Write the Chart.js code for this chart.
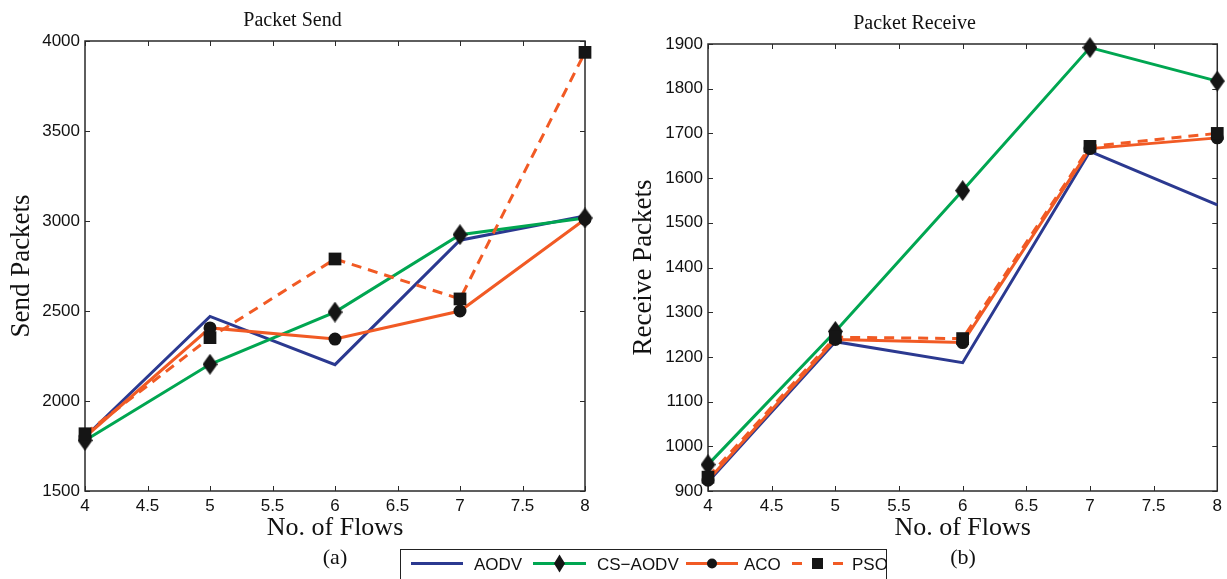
<!DOCTYPE html>
<html>
<head>
<meta charset="utf-8">
<script src="https://cdn.jsdelivr.net/npm/chart.js@4.4.1/dist/chart.umd.min.js"></script>
<style>
  body { margin: 0; background: #fff; width: 1227px; height: 579px; overflow: hidden; position: relative; }
  .wrap { position: absolute; top: 0; height: 545px; }
  .cap { position: absolute; font: 22px "Liberation Serif", serif; color: #111; transform: translate(-50%, -50%); }
  #legend { position: absolute; left: 400px; top: 549px; }
</style>
</head>
<body>
<div class="wrap" style="left:0;width:600px"><canvas id="sendChart"></canvas></div>
<div class="wrap" style="left:610px;width:617px"><canvas id="recvChart"></canvas></div>
<div class="cap" style="left:335px;top:557px">(a)</div>
<div class="cap" style="left:963px;top:557px">(b)</div>
<svg id="legend" width="487" height="40"></svg>
<script>
// data
const flows = [4, 5, 6, 7, 8];

const sendAODV = [1800, 2470, 2202, 2893, 3028];
const sendCSAODV = [1781, 2204, 2494, 2924, 3017];
const sendACO = [1800, 2406, 2344, 2500, 3010];
const sendPSO = [1818, 2352, 2789, 2567, 3937];

const recvAODV = [920, 1234, 1187, 1660, 1540];
const recvCSAODV = [959, 1257, 1572, 1892, 1817];
const recvACO = [924, 1239, 1232, 1666, 1690];
const recvPSO = [931, 1244, 1241, 1671, 1700];

const seriesNames = ["AODV", "CS\u2212AODV", "ACO", "PSO"];
const seriesColors = ["#2b3990", "#00a651", "#f15a24", "#f15a24"];

const xTicks = { min: 4, max: 8, step: 0.5 };
const sendTicks = { min: 1500, max: 4000, step: 500 };
const recvTicks = { min: 900, max: 1900, step: 100 };

const sans = "'Liberation Sans', Arial, sans-serif";
const serif = "'Liberation Serif', 'Times New Roman', serif";

// tall diamond marker like the figure
const diamond = (w, h) => {
  const c = document.createElement("canvas");
  c.width = w;
  c.height = h;
  const g = c.getContext("2d");
  g.fillStyle = "#151515";
  g.beginPath();
  g.moveTo(w / 2, 0);
  g.lineTo(w, h / 2);
  g.lineTo(w / 2, h);
  g.lineTo(0, h / 2);
  g.closePath();
  g.fill();
  return c;
};
const diamondImg = diamond(15, 21);

// box round the plot with inward ticks on all sides
const boxPlugin = {
  id: "box",
  beforeDatasetsDraw(chart) {
    const { ctx, chartArea: a, scales: { x, y } } = chart;
    ctx.save();
    ctx.strokeStyle = "#2a2a2a";
    ctx.lineWidth = 1.5;
    ctx.strokeRect(a.left, a.top, a.width, a.height);
    ctx.beginPath();
    x.ticks.forEach((t) => {
      const px = Math.round(x.getPixelForValue(t.value)) + 0.5;
      ctx.moveTo(px, a.bottom);
      ctx.lineTo(px, a.bottom - 5);
      ctx.moveTo(px, a.top);
      ctx.lineTo(px, a.top + 5);
    });
    y.ticks.forEach((t) => {
      const py = Math.round(y.getPixelForValue(t.value)) + 0.5;
      ctx.moveTo(a.left, py);
      ctx.lineTo(a.left + 5, py);
      ctx.moveTo(a.right, py);
      ctx.lineTo(a.right - 5, py);
    });
    ctx.lineWidth = 1;
    ctx.stroke();
    ctx.restore();
  },
};

const makeSets = (aodv, cs, aco, pso) => [
  {
    label: seriesNames[0], data: aodv, borderColor: seriesColors[0],
    borderWidth: 3, pointRadius: 0, order: 4,
  },
  {
    label: seriesNames[1], data: cs, borderColor: seriesColors[1],
    borderWidth: 3, pointStyle: diamondImg, order: 3,
  },
  {
    label: seriesNames[2], data: aco, borderColor: seriesColors[2],
    borderWidth: 3, pointStyle: "circle", pointRadius: 5,
    pointBackgroundColor: "#151515", pointBorderColor: "#151515", order: 2,
  },
  {
    label: seriesNames[3], data: pso, borderColor: seriesColors[3],
    borderWidth: 3, borderDash: [10, 7], pointStyle: "rect", pointRadius: 9,
    pointBackgroundColor: "#151515", pointBorderColor: "#151515", pointBorderWidth: 0, order: 1,
  },
].map((d) => ({ ...d, data: d.data.map((v, i) => ({ x: flows[i], y: v })), tension: 0, clip: false, fill: false }));

const makeChart = (id, title, titlePad, yTitle, yTitlePad, yTicks, sets, yWidth, rightPad) =>
  new Chart(document.getElementById(id), {
    type: "line",
    data: { datasets: sets },
    plugins: [boxPlugin],
    options: {
      responsive: true,
      maintainAspectRatio: false,
      animation: false,
      layout: { padding: { left: 0, right: rightPad, top: 0, bottom: 0 } },
      plugins: {
        legend: { display: false },
        tooltip: { enabled: false },
        title: {
          display: true,
          text: title,
          color: "#111",
          font: { family: serif, size: 20, weight: "normal", lineHeight: 1.2 },
          padding: titlePad,
        },
      },
      scales: {
        x: {
          type: "linear",
          min: xTicks.min,
          max: xTicks.max,
          grid: { display: false, drawTicks: false },
          border: { display: false },
          ticks: {
            stepSize: xTicks.step,
            color: "#111",
            padding: 5,
            maxRotation: 0,
            font: { family: sans, size: 17 },
            callback: (v) => String(v),
          },
          title: {
            display: true,
            text: "No. of Flows",
            color: "#111",
            font: { family: serif, size: 26, lineHeight: 1 },
            padding: { top: 0, bottom: 4 },
          },
          afterFit: (s) => { s.height = 54; },
        },
        y: {
          min: yTicks.min,
          max: yTicks.max,
          grid: { display: false, drawTicks: false },
          border: { display: false },
          ticks: {
            stepSize: yTicks.step,
            color: "#111",
            padding: 5,
            font: { family: sans, size: 17 },
            callback: (v) => String(v),
          },
          title: {
            display: true,
            text: yTitle,
            color: "#111",
            font: { family: serif, size: 27, lineHeight: 1 },
            padding: { top: yTitlePad, bottom: 0 },
          },
          afterFit: (s) => { s.width = yWidth; },
        },
      },
    },
  });

makeChart("sendChart", "Packet Send", { top: 9, bottom: 8 }, "Send Packets", 8,
  sendTicks, makeSets(sendAODV, sendCSAODV, sendACO, sendPSO), 85, 15);
makeChart("recvChart", "Packet Receive", { top: 12, bottom: 8 }, "Receive Packets", 20,
  recvTicks, makeSets(recvAODV, recvCSAODV, recvACO, recvPSO), 98, 8);

// shared legend under both plots
const ns = "http://www.w3.org/2000/svg";
const svg = document.getElementById("legend");
const add = (tag, attrs, text) => {
  const el = document.createElementNS(ns, tag);
  Object.entries(attrs).forEach(([k, v]) => el.setAttribute(k, v));
  if (text) el.textContent = text;
  svg.appendChild(el);
  return el;
};
add("rect", { x: 0.5, y: 0.5, width: 486, height: 45, fill: "#fff", stroke: "#222", "stroke-width": 1 });
const ly = 14.5;
const items = [
  { x0: 11, x1: 63, tx: 74, marker: null },
  { x0: 133, x1: 186, tx: 197, marker: "diamond" },
  { x0: 286, x1: 338, tx: 344, marker: "circle" },
  { x0: 392, x1: 443, tx: 452, marker: "square", dash: "10 31" },
];
items.forEach((it, i) => {
  const line = { x1: it.x0, y1: ly, x2: it.x1, y2: ly, stroke: seriesColors[i], "stroke-width": 3 };
  if (it.dash) line["stroke-dasharray"] = it.dash;
  add("line", line);
  const cx = (it.x0 + it.x1) / 2;
  if (it.marker === "diamond") {
    add("polygon", { points: `${cx},${ly - 9} ${cx + 5.5},${ly} ${cx},${ly + 9} ${cx - 5.5},${ly}`, fill: "#151515" });
  } else if (it.marker === "circle") {
    add("circle", { cx, cy: ly, r: 5, fill: "#151515" });
  } else if (it.marker === "square") {
    add("rect", { x: cx - 5.5, y: ly - 5.5, width: 11, height: 11, fill: "#151515" });
  }
  add("text", { x: it.tx, y: ly + 6, "font-family": sans, "font-size": 17, fill: "#111" }, seriesNames[i]);
});
</script>
</body>
</html>
